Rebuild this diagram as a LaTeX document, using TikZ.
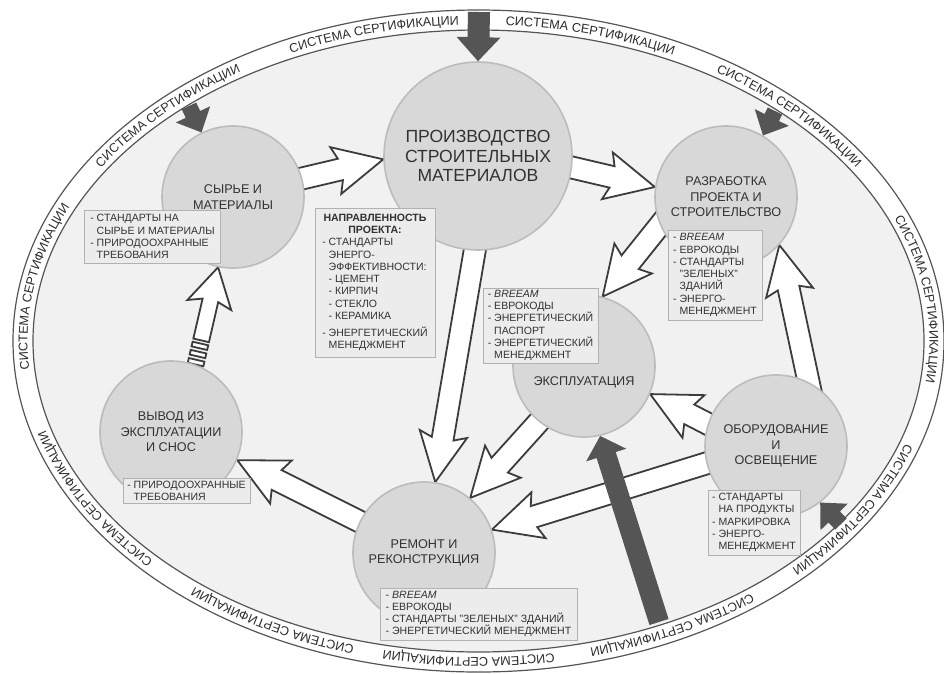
\documentclass[tikz,border=0pt]{standalone}
\usepackage{fontspec}
\setmainfont{Liberation Sans}
\usetikzlibrary{calc,decorations.text}

\definecolor{ringline}{RGB}{85,85,85}
\definecolor{ringtxt}{RGB}{45,45,45}
\definecolor{innerbg}{RGB}{241,241,241}
\definecolor{circfill}{RGB}{216,216,216}
\definecolor{circline}{RGB}{188,188,188}
\definecolor{boxfill}{RGB}{236,236,236}
\definecolor{boxline}{RGB}{178,178,178}
\definecolor{txt}{RGB}{50,50,50}
\definecolor{arrowline}{RGB}{60,60,60}
\definecolor{darkarrow}{RGB}{85,85,85}

\newcommand{\subind}{\phantom{-~}}
\newcommand{\ringfont}{\fontsize{9}{10}\selectfont}

\pgfdeclarelayer{bg}
\pgfdeclarelayer{arr}
\pgfsetlayers{bg,arr,main}

\tikzset{
  shaftw/.store in=\shaftw, headw/.store in=\headw,
  headl/.store in=\headl, sweepl/.store in=\sweepl, tailx/.store in=\tailx,
  shaftw=5.5mm, headw=12mm, headl=11mm, sweepl=1.2mm, tailx=-4mm,
  blockarrow/.style={line join=miter, to path={
    let \p1=(\tikztostart), \p2=(\tikztotarget),
        \n1={atan2(\y2-\y1,\x2-\x1)}, \n2={veclen(\x2-\x1,\y2-\y1)} in
    {[shift={(\p1)}, rotate=\n1]
      (\tailx,\shaftw/2) -- ({\n2*1pt-\headl},\shaftw/2)
      -- ({\n2*1pt-\headl-\sweepl},\headw/2) -- ({\n2*1pt},0pt)
      -- ({\n2*1pt-\headl-\sweepl},-\headw/2) -- ({\n2*1pt-\headl},-\shaftw/2)
      -- (\tailx,-\shaftw/2) -- cycle}}},
  tailbars/.style={to path={
    let \p1=(\tikztostart), \p2=(\tikztotarget),
        \n1={atan2(\y2-\y1,\x2-\x1)} in
    {[shift={(\p1)}, rotate=\n1]
      (0mm,2mm) -- (1.2mm,2mm) -- (1.2mm,-2mm) -- (0mm,-2mm) -- cycle
      (2.1mm,2mm) -- (3.3mm,2mm) -- (3.3mm,-2mm) -- (2.1mm,-2mm) -- cycle
      (4.2mm,2mm) -- (5.4mm,2mm) -- (5.4mm,-2mm) -- (4.2mm,-2mm) -- cycle}}}
}

\begin{document}
\begin{tikzpicture}[x=0.25mm, y=-0.25mm,
    bigcirc/.style={circle, draw=circline, fill=circfill, line width=0.4mm,
      minimum size=47mm, inner sep=0pt, align=center, text=txt,
      font=\fontsize{12.5}{13.9}\selectfont},
    circ/.style={circle, draw=circline, fill=circfill, line width=0.4mm,
      minimum size=35.5mm, inner sep=0pt, align=center, text=txt,
      font=\fontsize{9}{11}\selectfont},
    circlabel/.style={text=txt, font=\fontsize{9}{11}\selectfont},
    infobox/.style={rectangle, draw=boxline, fill=boxfill, line width=0.25mm,
      inner sep=0.5mm, align=left, text=txt, font=\fontsize{7.5}{8.7}\selectfont},
    ringline/.style={draw=ringline, line width=0.3mm},
    ringtext/.style={decorate, decoration={text along path, text align=center,
      text={|\ringfont\color{ringtxt}|СИСТЕМА СЕРТИФИКАЦИИ}}},
    hollow/.style={blockarrow, draw=arrowline, fill=white, line width=0.45mm},
    dark/.style={blockarrow, draw=none, fill=darkarrow, shaftw=4mm, headw=9.5mm,
      headl=5mm, sweepl=0mm, tailx=0mm}
]
\useasboundingbox (0,0) rectangle (944,673);

% Кольцо сертификации
\coordinate (ringc) at (478.5,341);
\begin{pgfonlayer}{bg}
\draw[ringline, fill=white] (ringc) ellipse [x radius=465.5, y radius=331];
\draw[ringline, fill=innerbg] (ringc) ellipse [x radius=445.5, y radius=311];
\foreach \t in {256,285,315.5,352.7,391.3,423.4,451.3,478.4,511,549.5,584.5}
  \path[ringtext] ($(ringc)+(\t-24:451 and 316.5)$)
    arc[start angle=\t-24, end angle=\t+24, x radius=451, y radius=316.5];
\end{pgfonlayer}

% Этапы
\node[bigcirc] (proizv) at (478,156) {ПРОИЗВОДСТВО\\СТРОИТЕЛЬНЫХ\\МАТЕРИАЛОВ};
\node[circ] (syr) at (233,197) {СЫРЬЕ И\\МАТЕРИАЛЫ};
\node[circ] (razr) at (726,197) {РАЗРАБОТКА\\ПРОЕКТА И\\СТРОИТЕЛЬСТВО};
\node[circ, label={[circlabel, yshift=-4mm]center:ЭКСПЛУАТАЦИЯ}] (ekspl) at (584,366) {};
\node[circ] (obor) at (776,446) {ОБОРУДОВАНИЕ\\И\\ОСВЕЩЕНИЕ};
\node[circ] (remont) at (424,553) {РЕМОНТ И\\РЕКОНСТРУКЦИЯ};
\node[circ] (vyvod) at (171,432) {ВЫВОД ИЗ\\ЭКСПЛУАТАЦИИ\\И СНОС};

% Требования
\node[infobox, minimum width=33.75mm, minimum height=13.25mm] (syrbox) at (152.5,236.5)
  {-~СТАНДАРТЫ НА\\\subind СЫРЬЕ И МАТЕРИАЛЫ\\-~ПРИРОДООХРАННЫЕ\\\subind ТРЕБОВАНИЯ};
\node[infobox, minimum width=30mm, minimum height=37.25mm] (napr) at (375,282.5)
  {\begin{tabular}{@{}l@{}}
   \multicolumn{1}{@{}c@{}}{\bfseries НАПРАВЛЕННОСТЬ}\\
   \multicolumn{1}{@{}c@{}}{\bfseries ПРОЕКТА:}\\
   -~СТАНДАРТЫ\\
   \subind ЭНЕРГО-\\
   \subind ЭФФЕКТИВНОСТИ:\\
   \subind -~ЦЕМЕНТ\\
   \subind -~КИРПИЧ\\
   \subind -~СТЕКЛО\\
   \subind -~КЕРАМИКА\\[0.9mm]
   -~ЭНЕРГЕТИЧЕСКИЙ\\
   \subind МЕНЕДЖМЕНТ
   \end{tabular}};
\node[infobox, minimum width=23.5mm, minimum height=22.5mm] (razrbox) at (715,275)
  {-~\textit{BREEAM}\\-~ЕВРОКОДЫ\\-~СТАНДАРТЫ\\\subind "ЗЕЛЕНЫХ"\\\subind ЗДАНИЙ\\-~ЭНЕРГО-\\\subind МЕНЕДЖМЕНТ};
\node[infobox, minimum width=28.75mm, minimum height=18.75mm] (eksplbox) at (540.5,325.5)
  {-~\textit{BREEAM}\\-~ЕВРОКОДЫ\\-~ЭНЕРГЕТИЧЕСКИЙ\\\subind ПАСПОРТ\\-~ЭНЕРГЕТИЧЕСКИЙ\\\subind МЕНЕДЖМЕНТ};
\node[infobox, minimum width=23mm, minimum height=16.25mm] (oborbox) at (754,522.5)
  {-~СТАНДАРТЫ\\\subind НА ПРОДУКТЫ\\-~МАРКИРОВКА\\-~ЭНЕРГО-\\\subind МЕНЕДЖМЕНТ};
\node[infobox, minimum width=49.25mm, minimum height=13mm] (remontbox) at (478.5,614)
  {-~\textit{BREEAM}\\-~ЕВРОКОДЫ\\-~СТАНДАРТЫ "ЗЕЛЕНЫХ" ЗДАНИЙ\\-~ЭНЕРГЕТИЧЕСКИЙ МЕНЕДЖМЕНТ};
\node[infobox, minimum width=31.75mm, minimum height=6.25mm] (vyvodbox) at (186.5,490.5)
  {-~ПРИРОДООХРАННЫЕ\\\subind ТРЕБОВАНИЯ};

% Потоки между этапами
\begin{pgfonlayer}{arr}
\draw[hollow] (syr.15) to (proizv.182);
\draw[hollow] (proizv.-7) to (razr.172);
\draw[hollow] (razr.203) to (ekspl.75);
\draw[hollow] (proizv.268) to (remont.81);
\draw[hollow] (ekspl.231) to (remont.50);
\draw[hollow] (obor.194) to (remont.19);
\draw[hollow] (obor.162) to (ekspl.-23);
\draw[hollow] (obor.63) to (razr.-42);
\draw[hollow] (remont.154) to (vyvod.-23);
\draw[hollow, shaftw=4mm, headw=11.25mm, headl=8.5mm, tailx=6.2mm] (vyvod.70) to (syr.258);
\draw[hollow, tailbars] (vyvod.70) to (syr.258);
\end{pgfonlayer}

% Система сертификации
\coordinate (cert1) at (479,12);
\coordinate (cert2) at (189,106);
\coordinate (cert3) at (775,111);
\coordinate (cert4) at (841,524);
\coordinate (cert5) at (659,622);
\draw[dark, shaftw=5.5mm, headw=11mm, headl=6mm] (cert1) to (proizv.90);
\draw[dark] (cert2) to (syr.116);
\draw[dark] (cert3) to (razr.59);
\draw[dark] (cert4) to (obor.-52);
\draw[dark, shaftw=5mm, headw=10.5mm] (cert5) to (ekspl.-77);

\end{tikzpicture}
\end{document}
